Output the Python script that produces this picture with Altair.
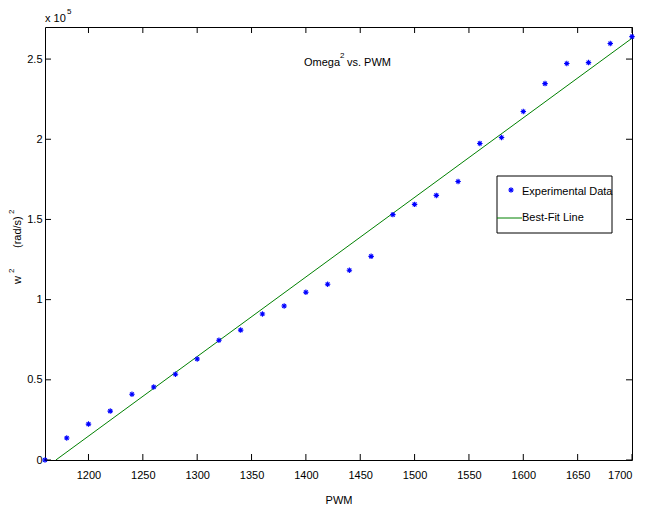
import altair as alt
import pandas as pd

pwm = [1160, 1180, 1200, 1220, 1240, 1260, 1280, 1300, 1320, 1340, 1360, 1380, 1400, 1420,
       1440, 1460, 1480, 1500, 1520, 1540, 1560, 1580, 1600, 1620, 1640, 1660, 1680, 1700]
omega_sq = [0, 13700, 22400, 30500, 41000, 45500, 53500, 63000, 74700, 81000, 91000, 96000,
            104600, 109600, 118300, 127000, 153000, 159400, 165000, 173700, 197400, 201100,
            217300, 234700, 247200, 247800, 259700, 264000]
fit_x = [1170, 1700]
fit_y = [0, 263000]
x_ticks = [1200, 1250, 1300, 1350, 1400, 1450, 1500, 1550, 1600, 1650, 1700]
y_ticks = [0, 50000, 100000, 150000, 200000, 250000]
legend_labels = ["Experimental Data", "Best-Fit Line"]
title_parts = ["Omega", "2", "vs. PWM"]
x_title = "PWM"
y_title_parts = ["w", "2", "(rad/s)", "2"]
exponent_parts = ["x 10", "5"]

W, H = 587, 433
FONT = "Liberation Sans, Arial, Helvetica"
FS = 11
SUP = 8
STAR = "M-1,0L1,0M0,-1L0,1M-0.7,-0.7L0.7,0.7M-0.7,0.7L0.7,-0.7"

pts = pd.DataFrame({"pwm": pwm, "w2": omega_sq})
fit = pd.DataFrame({"pwm": fit_x, "w2": fit_y})
xt = pd.DataFrame({"v": x_ticks})
yt = pd.DataFrame({"v": y_ticks})
one = pd.DataFrame({"a": [0]})

xs = alt.Scale(domain=[1160, 1700], nice=False, zero=False)
ys = alt.Scale(domain=[0, 270000], nice=False)

xaxis = alt.Axis(values=x_ticks, title=x_title, format="d", tickSize=0, labelPadding=9,
                 domain=False, grid=False, titlePadding=14, labelFontSize=FS, titleFontSize=FS,
                 labelFont=FONT, titleFont=FONT, titleFontWeight="normal", labelColor="black",
                 titleColor="black")
yaxis = alt.Axis(values=y_ticks, title="", tickSize=0, labelPadding=3, domain=False,
                 grid=False, labelFontSize=FS, labelFont=FONT, labelColor="black",
                 labelExpr="datum.value / 100000")

line = alt.Chart(fit).mark_line(color="#008000", strokeWidth=1, clip=True).encode(
    x=alt.X("pwm:Q", scale=xs, axis=xaxis),
    y=alt.Y("w2:Q", scale=ys, axis=yaxis),
)
points = alt.Chart(pts).mark_point(shape=STAR, filled=False, color="#0000ff", size=30,
                                   strokeWidth=1.1, opacity=1).encode(
    x=alt.X("pwm:Q", scale=xs),
    y=alt.Y("w2:Q", scale=ys),
)

tk = dict(color="black", strokeWidth=1)
tb = alt.Chart(xt).mark_rule(**tk).encode(x=alt.X("v:Q", scale=xs), y=alt.value(H), y2=alt.value(H - 6))
tt = alt.Chart(xt).mark_rule(**tk).encode(x=alt.X("v:Q", scale=xs), y=alt.value(0), y2=alt.value(6))
tl = alt.Chart(yt).mark_rule(**tk).encode(y=alt.Y("v:Q", scale=ys), x=alt.value(0), x2=alt.value(6))
tr = alt.Chart(yt).mark_rule(**tk).encode(y=alt.Y("v:Q", scale=ys), x=alt.value(W), x2=alt.value(W - 6))


def txt(t, x, y, size=FS, align="left", angle=0):
    return alt.Chart(one).mark_text(text=t, font=FONT, fontSize=size, color="black",
                                    align=align, baseline="middle", angle=angle).encode(
        x=alt.value(x), y=alt.value(y))


# title with superscript
t1 = txt(title_parts[0], 295, 36, align="right")
t2 = txt(title_parts[1], 295, 29, size=SUP)
t3 = txt(title_parts[2], 302, 36)

# exponent label above the axis
e1 = txt(exponent_parts[0], 0, -8)
e2 = txt(exponent_parts[1], 22, -15, size=SUP)

# rotated y-axis title with superscripts
y1 = txt(y_title_parts[0], -27, 257, angle=270)
y2 = txt(y_title_parts[1], -33, 246, size=SUP, angle=270)
y3 = txt(y_title_parts[2], -27, 221, angle=270)
y4 = txt(y_title_parts[3], -33, 187, size=SUP, angle=270)

lbox = alt.Chart(one).mark_rect(fill="white", stroke="black", strokeWidth=1).encode(
    x=alt.value(452), x2=alt.value(567), y=alt.value(149), y2=alt.value(206))
lpt = alt.Chart(one).mark_point(shape=STAR, filled=False, color="#0000ff", size=30,
                                strokeWidth=1.1, opacity=1).encode(x=alt.value(466), y=alt.value(163))
lln = alt.Chart(one).mark_rule(color="#008000", strokeWidth=1).encode(
    x=alt.value(452), x2=alt.value(477), y=alt.value(191))
lt1 = txt(legend_labels[0], 477, 165)
lt2 = txt(legend_labels[1], 477, 191)

chart = alt.layer(line, points, tb, tt, tl, tr, t1, t2, t3, e1, e2, y1, y2, y3, y4,
                  lbox, lpt, lln, lt1, lt2).properties(
    width=W, height=H,
    autosize=alt.AutoSizeParams(type="none"),
    padding={"left": 37, "top": 19, "right": 6, "bottom": 50},
    background="white",
).configure_view(stroke="black", strokeWidth=1)

chart.save("out.html", embed_options={"renderer": "svg", "actions": False})
